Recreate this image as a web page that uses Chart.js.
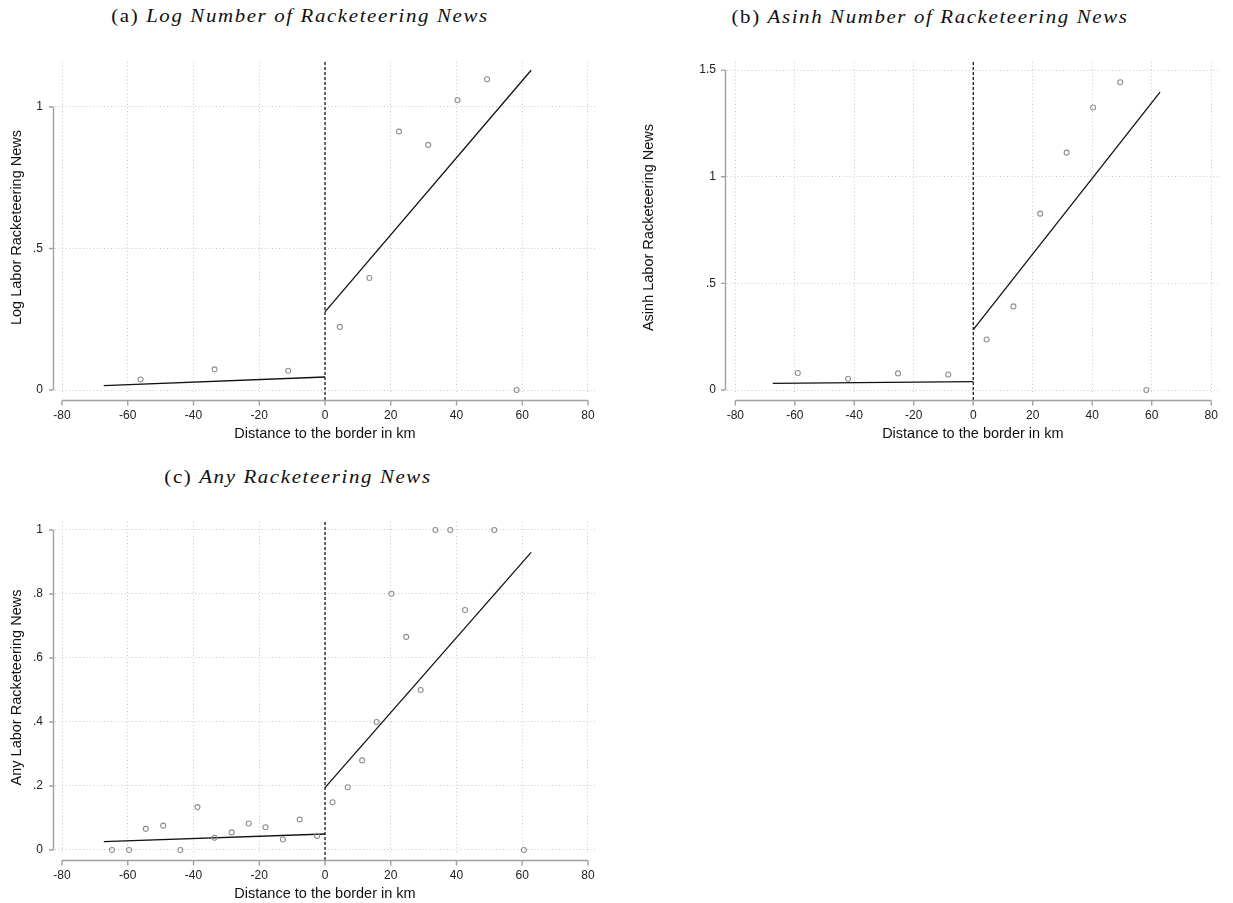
<!DOCTYPE html>
<html>
<head>
<meta charset="utf-8">
<script src="https://cdn.jsdelivr.net/npm/chart.js@4.4.0/dist/chart.umd.min.js"></script>
<style>
  body { margin: 0; background: #fff; width: 1233px; height: 903px; position: relative; overflow: hidden; }
  canvas { position: absolute; }
  .ttl { position: absolute; font-family: "Liberation Serif", serif; font-size: 18px; color: #111;
         white-space: nowrap; transform: translate(-50%, -50%) scaleX(1.16); letter-spacing: 1.4px; }
</style>
</head>
<body>
<div class="ttl" style="left:300px; top:16px">(a) <i>Log Number of Racketeering News</i></div>
<div class="ttl" style="left:930px; top:17px">(b) <i>Asinh Number of Racketeering News</i></div>
<div class="ttl" style="left:298px; top:477px">(c) <i>Any Racketeering News</i></div>

<canvas id="chartA" width="615" height="450" style="left:0px; top:0px"></canvas>
<canvas id="chartB" width="593" height="450" style="left:640px; top:0px"></canvas>
<canvas id="chartC" width="615" height="450" style="left:0px; top:460px"></canvas>

<script>
// border cutoff (km)
const cutoff = 0;
const xTicks = [-80, -60, -40, -20, 0, 20, 40, 60, 80];

// (a) log number of racketeering news, binned means
const distA = [-56.1, -33.6, -11.2, 4.5, 13.5, 22.5, 31.4, 40.3, 49.3, 58.3];
const logNews = [0.037, 0.073, 0.068, 0.223, 0.396, 0.913, 0.866, 1.024, 1.098, 0];
const fitA_leftX = [-67.3, 0];
const fitA_leftY = [0.0155, 0.046];
const fitA_rightX = [0, 62.7];
const fitA_rightY = [0.276, 1.13];
const yTicksA = [0, 0.5, 1];
const yLabelsA = ['0', '.5', '1'];

// (b) asinh number of racketeering news
const distB = [-59.0, -42.1, -25.3, -8.4, 4.5, 13.5, 22.5, 31.4, 40.3, 49.4, 58.2];
const asinhNews = [0.080, 0.053, 0.078, 0.073, 0.237, 0.392, 0.827, 1.113, 1.325, 1.443, 0];
const fitB_leftX = [-67.4, 0];
const fitB_leftY = [0.031, 0.039];
const fitB_rightX = [0, 62.8];
const fitB_rightY = [0.283, 1.397];
const yTicksB = [0, 0.5, 1, 1.5];
const yLabelsB = ['0', '.5', '1', '1.5'];

// (c) any racketeering news
const distC = [-64.8, -59.6, -54.5, -49.2, -44.0, -38.8, -33.6, -28.4, -23.2, -18.1, -12.8, -7.7, -2.4,
               2.3, 6.9, 11.3, 15.7, 20.2, 24.7, 29.1, 33.6, 38.1, 42.6, 51.5, 60.5];
const anyNews = [0, 0, 0.066, 0.076, 0, 0.134, 0.038, 0.055, 0.083, 0.071, 0.033, 0.095, 0.044,
                 0.149, 0.196, 0.280, 0.400, 0.801, 0.666, 0.5, 1, 1, 0.75, 1, 0];
const fitC_leftX = [-67.3, 0];
const fitC_leftY = [0.026, 0.050];
const fitC_rightX = [0, 62.7];
const fitC_rightY = [0.195, 0.930];
const yTicksC = [0, 0.2, 0.4, 0.6, 0.8, 1];
const yLabelsC = ['0', '.2', '.4', '.6', '.8', '1'];

function pts(xs, ys) {
  return xs.map((x, i) => ({ x: x, y: ys[i] }));
}

// stata style axes: offset axis lines spanning the tick range, dashed cutoff line
const stataAxes = {
  id: 'stataAxes',
  beforeDatasetsDraw(chart) {
    const ctx = chart.ctx;
    const area = chart.chartArea;
    const cx = chart.scales.x.getPixelForValue(cutoff);
    ctx.save();
    ctx.strokeStyle = '#1a1a1a';
    ctx.lineWidth = 1.3;
    ctx.setLineDash([3, 2]);
    ctx.beginPath();
    ctx.moveTo(cx, area.top);
    ctx.lineTo(cx, area.bottom + 7);
    ctx.stroke();
    ctx.restore();
  },
  afterDraw(chart) {
    const ctx = chart.ctx;
    const area = chart.chartArea;
    const xs = chart.scales.x, ys = chart.scales.y;
    const ax = Math.round(area.left - 2.5) + 0.5;
    const ay = Math.round(area.bottom + 7) + 0.5;
    ctx.save();
    ctx.setLineDash([]);
    ctx.strokeStyle = '#a0a0a0';
    ctx.lineWidth = 1.4;
    ctx.beginPath();
    const yt = ys.ticks.map(t => ys.getPixelForValue(t.value));
    ctx.moveTo(ax, Math.max(...yt));
    ctx.lineTo(ax, Math.min(...yt));
    yt.forEach(p => { ctx.moveTo(ax - 4.5, p); ctx.lineTo(ax, p); });
    const xt = xs.ticks.map(t => xs.getPixelForValue(t.value));
    ctx.moveTo(Math.min(...xt), ay);
    ctx.lineTo(Math.max(...xt), ay);
    xt.forEach(p => { ctx.moveTo(p, ay); ctx.lineTo(p, ay + 5); });
    ctx.stroke();
    ctx.restore();
  }
};

function makePanel(id, p) {
  const ctx = document.getElementById(id).getContext('2d');
  return new Chart(ctx, {
    type: 'scatter',
    data: {
      datasets: [
        { data: pts(p.dist, p.vals), pointRadius: 2.5, pointBorderWidth: 1.1, pointBorderColor: '#8f8f8f',
          pointBackgroundColor: 'rgba(255,255,255,0)', showLine: false },
        { data: pts(p.fitLX, p.fitLY), showLine: true, borderColor: '#111', borderWidth: 1.3, pointRadius: 0 },
        { data: pts(p.fitRX, p.fitRY), showLine: true, borderColor: '#111', borderWidth: 1.3, pointRadius: 0 }
      ]
    },
    options: {
      responsive: false,
      animation: false,
      devicePixelRatio: 1,
      layout: { padding: { top: 62, right: p.padRight, left: 0, bottom: 0 } },
      plugins: { legend: { display: false }, tooltip: { enabled: false } },
      scales: {
        x: {
          type: 'linear', min: p.xMin, max: p.xMax,
          afterBuildTicks: s => { s.ticks = xTicks.map(v => ({ value: v })); },
          afterFit: s => { s.height = 57; },
          border: { display: false, dash: [1, 2.5] },
          grid: { color: '#c8c8c8', lineWidth: 1, drawTicks: false },
          ticks: { padding: 15, color: '#222', font: { family: 'Liberation Sans', size: 12 }, maxRotation: 0 },
          title: { display: true, text: 'Distance to the border in km', color: '#111',
                   font: { family: 'Liberation Sans', size: 14.5 }, padding: { top: 0, bottom: 7 } }
        },
        y: {
          type: 'linear', min: p.yMin, max: p.yMax,
          afterBuildTicks: s => { s.ticks = p.yTicks.map(v => ({ value: v })); },
          afterFit: s => { s.width = p.yWidth; },
          border: { display: false, dash: [1, 2.5] },
          grid: { color: '#c8c8c8', lineWidth: 1, drawTicks: false },
          ticks: { padding: p.yPad, color: '#222', font: { family: 'Liberation Sans', size: 12 },
                   callback: v => p.yLabels[p.yTicks.indexOf(v)] },
          title: { display: true, text: p.yTitle, color: '#111',
                   font: { family: 'Liberation Sans', size: 14.5 }, padding: { top: p.yTitlePad, bottom: 0 } }
        }
      }
    },
    plugins: [stataAxes]
  });
}

makePanel('chartA', {
  dist: distA, vals: logNews,
  fitLX: fitA_leftX, fitLY: fitA_leftY, fitRX: fitA_rightX, fitRY: fitA_rightY,
  xMin: -82.13, xMax: 82.13, yMin: -0.0106, yMax: 1.159,
  yTicks: yTicksA, yLabels: yLabelsA, yWidth: 55, yPad: 12, yTitlePad: 8, padRight: 20,
  yTitle: 'Log Labor Racketeering News'
});

makePanel('chartB', {
  dist: distB, vals: asinhNews,
  fitLX: fitB_leftX, fitLY: fitB_leftY, fitRX: fitB_rightX, fitRY: fitB_rightY,
  xMin: -82.8, xMax: 82.5, yMin: -0.014, yMax: 1.538,
  yTicks: yTicksB, yLabels: yLabelsB, yWidth: 87, yPad: 11, yTitlePad: 0, padRight: 9,
  yTitle: 'Asinh Labor Racketeering News'
});

makePanel('chartC', {
  dist: distC, vals: anyNews,
  fitLX: fitC_leftX, fitLY: fitC_leftY, fitRX: fitC_rightX, fitRY: fitC_rightY,
  xMin: -82.13, xMax: 82.13, yMin: -0.0094, yMax: 1.025,
  yTicks: yTicksC, yLabels: yLabelsC, yWidth: 55, yPad: 12, yTitlePad: 8, padRight: 20,
  yTitle: 'Any Labor Racketeering News'
});
</script>
</body>
</html>
